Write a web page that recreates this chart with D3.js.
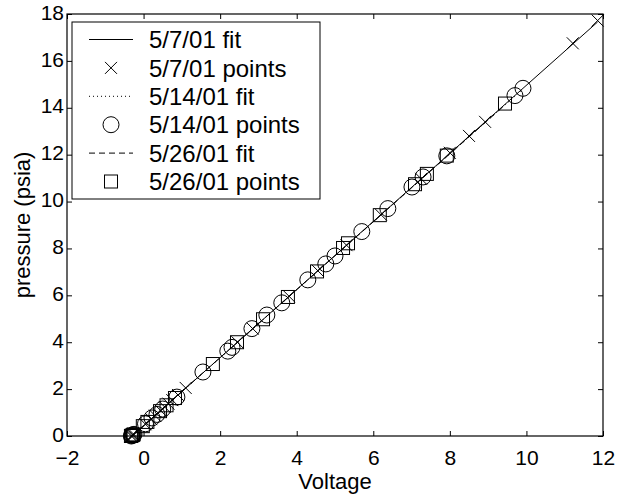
<!DOCTYPE html>
<html>
<head>
<meta charset="utf-8">
<script src="https://cdn.jsdelivr.net/npm/d3@7"></script>
<style>
  html, body { margin: 0; padding: 0; background: #fff; }
  svg { display: block; }
  text { font-family: "Liberation Sans", Arial, Helvetica, sans-serif; fill: #000; }
</style>
</head>
<body>
<svg id="chart" width="630" height="494"></svg>
<script>
// Calibration runs: voltage reading vs. pressure, one series per date
const seriesNames = ["5/7/01", "5/14/01", "5/26/01"];

const volts0507 = [-0.32, -0.30, -0.27, -0.25, 0.05, 0.20, 0.30, 0.45, 0.55, 0.65, 0.75, 0.90, 1.10, 2.45, 2.85, 3.80, 4.55, 5.30, 6.20, 7.25, 8.00, 8.50, 8.92, 11.21, 11.86];
const press0507 = [0.00, 0.02, 0.04, 0.06, 0.50, 0.72, 0.87, 1.08, 1.24, 1.38, 1.53, 1.75, 2.05, 4.00, 4.58, 5.96, 7.05, 8.14, 9.44, 10.97, 12.08, 12.80, 13.40, 16.75, 17.72];

const volts0514 = [-0.32, -0.30, -0.27, -0.25, 0.05, 0.22, 0.35, 0.50, 0.87, 1.55, 2.20, 2.31, 2.83, 3.22, 3.61, 4.29, 4.76, 5.00, 5.70, 6.38, 7.01, 7.30, 7.92, 9.70, 9.91];
const press0514 = [0.00, 0.02, 0.05, 0.07, 0.52, 0.77, 0.92, 1.15, 1.66, 2.73, 3.62, 3.78, 4.58, 5.16, 5.68, 6.66, 7.34, 7.68, 8.72, 9.70, 10.62, 11.05, 11.95, 14.52, 14.83];

const volts0526 = [-0.33, -0.31, -0.28, -0.26, -0.02, 0.10, 0.43, 0.60, 0.82, 1.81, 2.44, 3.12, 3.77, 4.53, 5.21, 5.34, 6.17, 7.09, 7.40, 7.92, 9.44];
const press0526 = [0.00, 0.02, 0.04, 0.07, 0.42, 0.60, 1.06, 1.31, 1.62, 3.07, 4.00, 4.98, 5.93, 7.02, 8.02, 8.22, 9.42, 10.74, 11.18, 11.96, 14.18];

// Linear fit coefficients (pressure = slope * voltage + intercept)
const fitSlopes = [1.452, 1.449, 1.448];
const fitIntercepts = [0.44, 0.44, 0.45];

const xTicks = [-2, 0, 2, 4, 6, 8, 10, 12];
const yTicks = [0, 2, 4, 6, 8, 10, 12, 14, 16, 18];

const svg = d3.select("#chart");
const plot = { left: 67, right: 603, top: 14, bottom: 436 };
const tickFontSize = 21;
const titleFontSize = 22;
const legendFontSize = 24;

const x = d3.scaleLinear().domain([-2, 12]).range([plot.left, plot.right]);
const y = d3.scaleLinear().domain([0, 18]).range([plot.bottom, plot.top]);

const series = [
  { v: volts0507, p: press0507, marker: "x", dash: null },
  { v: volts0514, p: press0514, marker: "o", dash: "1,3" },
  { v: volts0526, p: press0526, marker: "s", dash: "6,4" }
];

// Axes box with inward ticks on all four sides
const tickLen = 5;
const axes = svg.append("g");
axes.append("rect")
  .attr("x", plot.left).attr("y", plot.top)
  .attr("width", plot.right - plot.left).attr("height", plot.bottom - plot.top)
  .attr("fill", "none").attr("stroke", "#000").attr("stroke-width", 1.2);

const xAxisBottom = d3.axisBottom(x).tickValues(xTicks).tickSizeInner(-tickLen).tickSizeOuter(0)
  .tickFormat(d => d < 0 ? "\u2212" + Math.abs(d) : d);
const xAxisTop = d3.axisTop(x).tickValues(xTicks).tickSizeInner(-tickLen).tickSizeOuter(0).tickFormat("");
const yAxisLeft = d3.axisLeft(y).tickValues(yTicks).tickSizeInner(-tickLen).tickSizeOuter(0);
const yAxisRight = d3.axisRight(y).tickValues(yTicks).tickSizeInner(-tickLen).tickSizeOuter(0).tickFormat("");

function styleAxis(g) {
  g.select(".domain").remove();
  g.selectAll(".tick line").attr("stroke", "#000").attr("stroke-width", 1);
  g.selectAll(".tick text").style("font-size", tickFontSize + "px")
    .style("font-family", '"Liberation Sans", Arial, sans-serif').attr("fill", "#000");
}

axes.append("g").attr("transform", `translate(0,${plot.bottom})`).call(xAxisBottom).call(styleAxis)
  .selectAll(".tick text").attr("dy", null).attr("y", 29);
axes.append("g").attr("transform", `translate(0,${plot.top})`).call(xAxisTop).call(styleAxis);
axes.append("g").attr("transform", `translate(${plot.left},0)`).call(yAxisLeft).call(styleAxis)
  .selectAll(".tick text").attr("x", -3).attr("dy", 5.2);
axes.append("g").attr("transform", `translate(${plot.right},0)`).call(yAxisRight).call(styleAxis);

// Fit lines, drawn over each series' voltage range
const marks = svg.append("g");
series.forEach((s, i) => {
  const v0 = d3.min(s.v), v1 = d3.max(s.v);
  const ends = [v0, v1].map(v => [v, fitSlopes[i] * v + fitIntercepts[i]]);
  marks.append("line")
    .attr("x1", x(ends[0][0])).attr("y1", y(ends[0][1]))
    .attr("x2", x(ends[1][0])).attr("y2", y(ends[1][1]))
    .attr("stroke", "#000").attr("stroke-width", 1)
    .attr("stroke-dasharray", s.dash);
});

// Marker shapes
function drawMarker(g, type, cx, cy) {
  if (type === "x") {
    const h = 6;
    g.append("path")
      .attr("d", `M${cx - h},${cy - h}L${cx + h},${cy + h}M${cx - h},${cy + h}L${cx + h},${cy - h}`)
      .attr("stroke", "#000").attr("stroke-width", 1).attr("fill", "none");
  } else if (type === "o") {
    g.append("circle").attr("cx", cx).attr("cy", cy).attr("r", 8)
      .attr("stroke", "#000").attr("stroke-width", 1).attr("fill", "none");
  } else {
    const h = 6.5;
    g.append("rect").attr("x", cx - h).attr("y", cy - h).attr("width", 2 * h).attr("height", 2 * h)
      .attr("stroke", "#000").attr("stroke-width", 1).attr("fill", "none");
  }
}

series.forEach(s => {
  s.v.forEach((v, j) => drawMarker(marks, s.marker, x(v), y(s.p[j])));
});

// Axis titles
svg.append("text").attr("x", (plot.left + plot.right) / 2).attr("y", 489)
  .attr("text-anchor", "middle").style("font-size", titleFontSize + "px").text("Voltage");
svg.append("text").attr("transform", `translate(30,${(plot.top + plot.bottom) / 2}) rotate(-90)`)
  .attr("text-anchor", "middle").style("font-size", titleFontSize + "px").text("pressure (psia)");

// Legend
const legend = svg.append("g");
const lg = { x: 72, y: 22, w: 248, h: 177, row: 28.4, first: 39.5 };
legend.append("rect").attr("x", lg.x).attr("y", lg.y).attr("width", lg.w).attr("height", lg.h)
  .attr("fill", "#fff").attr("stroke", "#000").attr("stroke-width", 1);

const legendItems = [];
series.forEach((s, i) => {
  legendItems.push({ label: seriesNames[i] + " fit", kind: "line", dash: s.dash });
  legendItems.push({ label: seriesNames[i] + " points", kind: "marker", marker: s.marker });
});

legendItems.forEach((it, k) => {
  const cy = lg.first + k * lg.row;
  if (it.kind === "line") {
    legend.append("line").attr("x1", 89).attr("x2", 133).attr("y1", cy).attr("y2", cy)
      .attr("stroke", "#000").attr("stroke-width", 1).attr("stroke-dasharray", it.dash);
  } else {
    drawMarker(legend, it.marker, 111, cy);
  }
  legend.append("text").attr("x", 149).attr("y", cy).attr("dy", "0.36em")
    .style("font-size", legendFontSize + "px").text(it.label);
});
</script>
</body>
</html>
